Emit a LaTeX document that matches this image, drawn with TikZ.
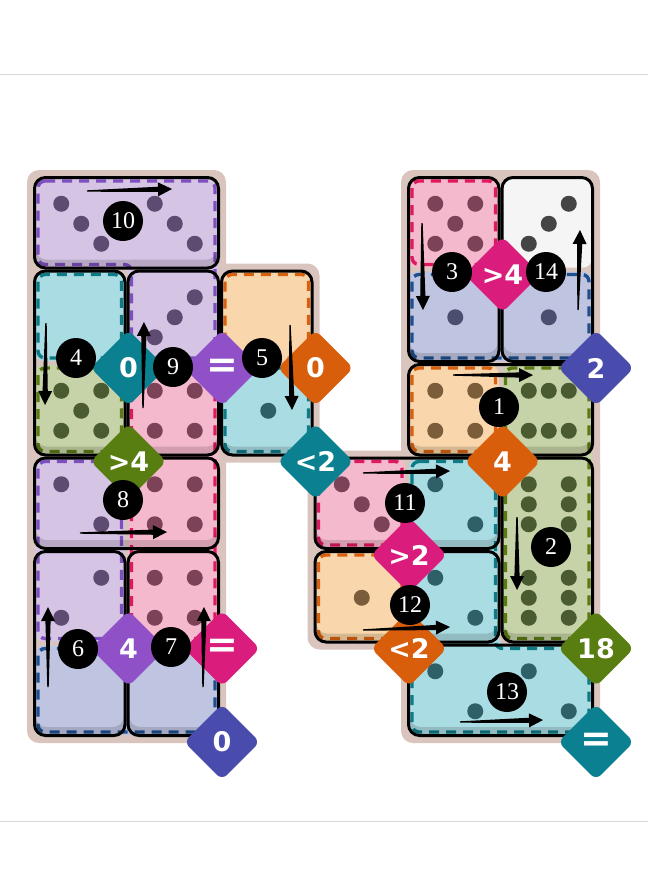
\documentclass[tikz,border=0pt]{standalone}
\usepackage{fontspec}
\setmainfont{Liberation Serif}
\newfontfamily\condfont{DejaVu Sans}
\usetikzlibrary{calc,shapes.geometric}

\definecolor{boardc}{HTML}{D9C5BE}
\definecolor{fillpurple}{HTML}{D6C4E4}
\definecolor{linepurple}{HTML}{7E4FC0}
\definecolor{tagpurple}{HTML}{9050C8}
\definecolor{pippurple}{HTML}{5E4B72}
\definecolor{fillteal}{HTML}{AADCE3}
\definecolor{lineteal}{HTML}{0D7A85}
\definecolor{tagteal}{HTML}{0B8090}
\definecolor{pipteal}{HTML}{2F6069}
\definecolor{fillorange}{HTML}{F9D6AB}
\definecolor{lineorange}{HTML}{D9600F}
\definecolor{tagorange}{HTML}{D95E0C}
\definecolor{piporange}{HTML}{7B5D3B}
\definecolor{fillgreen}{HTML}{C6D2A7}
\definecolor{linegreen}{HTML}{5B7A12}
\definecolor{taggreen}{HTML}{587D10}
\definecolor{pipgreen}{HTML}{4A5A31}
\definecolor{fillpink}{HTML}{F5B9CE}
\definecolor{linepink}{HTML}{E0185E}
\definecolor{tagpink}{HTML}{DA1D7D}
\definecolor{pippink}{HTML}{7B4258}
\definecolor{fillblue}{HTML}{BFC5E1}
\definecolor{lineblue}{HTML}{1E5090}
\definecolor{tagblue}{HTML}{4A4CAD}
\definecolor{pipblue}{HTML}{4B4F6F}
\definecolor{fillwhite}{HTML}{F5F5F5}
\definecolor{pipwhite}{HTML}{454545}

\tikzset{
    regdash/.style={line width=3.4pt,dash pattern=on 10pt off 7pt},
    domline/.style={line width=3pt,rounded corners=11pt},
    cond/.style={diamond,aspect=1,minimum size=76pt,inner sep=0pt,rounded corners=7pt,text=white,font=\condfont\bfseries\fontsize{27}{27}\selectfont},
    numc/.style={circle,fill=black,minimum size=40pt,inner sep=0pt,text=white,font=\fontsize{24}{24}\selectfont}
}

%% region of cells: colour, x1, y1, x2, y2
\newcommand{\regbox}[5]{%
    \fill[fill#1,rounded corners=9pt] (#2+2,#3+2) rectangle (#4-2,#5-2);
    \draw[line#1,regdash,rounded corners=7pt] (#2+5,#3+5) rectangle (#4-5,#5-5);
}
%% domino: x1, y1, x2, y2
\newcommand{\domino}[4]{%
    \fill[black,opacity=.14,even odd rule,rounded corners=11pt]
        (#1+1.5,#2+1.5) rectangle (#3-1.5,#4-1.5)
        (#1+2.5,#2+1.5) rectangle (#3-2.5,#4-10);
    \draw[domline] (#1+1.5,#2+1.5) rectangle (#3-1.5,#4-1.5);
}
%% pips
\newcommand{\pp}[2]{\fill (#1,#2) circle (8pt);}
\newcommand{\pips}[1]{%
    \ifcase#1\relax
    \or \pp{0}{0}
    \or \pp{-20}{-20}\pp{20}{20}
    \or \pp{-20}{-20}\pp{0}{0}\pp{20}{20}
    \or \pp{-20}{-20}\pp{20}{-20}\pp{-20}{20}\pp{20}{20}
    \or \pp{-20}{-20}\pp{20}{-20}\pp{0}{0}\pp{-20}{20}\pp{20}{20}
    \or \pp{-20}{-20}\pp{0}{-20}\pp{20}{-20}\pp{-20}{20}\pp{0}{20}\pp{20}{20}
    \fi}
%% tapered arrow: tail, tip
\newcommand{\taper}[2]{%
    \coordinate (tb) at ($(#2)!14pt!(#1)$);
    \fill ($(#1)!0.7pt!90:(#2)$) -- ($(tb)!2.6pt!90:(#2)$) -- ($(tb)!7pt!90:(#2)$) -- (#2)
        -- ($(tb)!7pt!-90:(#2)$) -- ($(tb)!2.6pt!-90:(#2)$) -- ($(#1)!0.7pt!-90:(#2)$) -- cycle;
}
\newcommand{\eq}{{\fontsize{38}{38}\selectfont =}}

\begin{document}
\begin{tikzpicture}[x=1pt,y=-1pt]
    \useasboundingbox (0,0) rectangle (648,884);
    \fill[white] (0,0) rectangle (648,884);
    \draw[black!15,line width=1pt] (0,74) -- (648,74) (0,821) -- (648,821);

    %% board
    \fill[boardc,rounded corners=12pt] (27,170) rectangle (226,743);
    \fill[boardc,rounded corners=12pt] (214,263.5) rectangle (319.5,462.5);
    \fill[boardc,rounded corners=12pt] (307.5,450.5) rectangle (600,649.5);
    \fill[boardc,rounded corners=12pt] (401,170) rectangle (600,743);

    %% regions
    \fill[fillpurple,rounded corners=9pt] (35,178) -- (218,178) -- (218,361) -- (128.5,361) -- (128.5,267.5) -- (35,267.5) -- cycle;
    \draw[linepurple,regdash,rounded corners=7pt] (38,181) -- (215,181) -- (215,358) -- (131.5,358) -- (131.5,264.5) -- (38,264.5) -- cycle;
    \regbox{teal}{33}{269.5}{126.5}{363}
    \regbox{orange}{220}{269.5}{313.5}{363}
    \regbox{green}{33}{363}{126.5}{456.5}
    \regbox{pink}{126.5}{363}{220}{643.5}
    \regbox{teal}{220}{363}{313.5}{456.5}
    \regbox{purple}{33}{456.5}{126.5}{643.5}
    \regbox{blue}{33}{643.5}{220}{737}
    \regbox{pink}{407}{176}{500.5}{269.5}
    \fill[fillwhite,rounded corners=9pt] (502.5,178) rectangle (592,267.5);
    \regbox{blue}{407}{269.5}{594}{363}
    \regbox{orange}{407}{363}{500.5}{456.5}
    \regbox{green}{500.5}{363}{594}{643.5}
    \regbox{pink}{313.5}{456.5}{407}{550}
    \regbox{orange}{313.5}{550}{407}{643.5}
    \fill[fillteal,rounded corners=9pt] (409,458.5) -- (498.5,458.5) -- (498.5,645.5) -- (592,645.5) -- (592,735) -- (409,735) -- cycle;
    \draw[lineteal,regdash,rounded corners=7pt] (412,461.5) -- (495.5,461.5) -- (495.5,648.5) -- (589,648.5) -- (589,732) -- (412,732) -- cycle;

    %% dominoes
    \domino{33}{176}{220}{269.5}
    \domino{33}{269.5}{126.5}{456.5}
    \domino{126.5}{269.5}{220}{456.5}
    \domino{220}{269.5}{313.5}{456.5}
    \domino{33}{456.5}{220}{550}
    \domino{33}{550}{126.5}{737}
    \domino{126.5}{550}{220}{737}
    \domino{407}{176}{500.5}{363}
    \domino{500.5}{176}{594}{363}
    \domino{407}{363}{594}{456.5}
    \domino{313.5}{456.5}{500.5}{550}
    \domino{313.5}{550}{500.5}{643.5}
    \domino{500.5}{456.5}{594}{643.5}
    \domino{407}{643.5}{594}{737}

    %% pips: row/col/count/colour/turn
    \foreach \r/\c/\n/\k/\a in {0/0/3/purple/0, 0/1/3/purple/0, 2/0/5/green/90, 1/1/3/purple/90,
        2/1/4/pink/90, 2/2/1/teal/90, 3/0/2/purple/0, 3/1/4/pink/0, 4/0/2/purple/90,
        4/1/4/pink/90, 0/4/5/pink/90, 1/4/1/blue/90, 0/5/3/white/90, 1/5/1/blue/90,
        2/4/4/orange/0, 2/5/6/green/0, 3/3/3/pink/0, 3/4/2/teal/0, 4/3/1/orange/0,
        4/4/2/teal/0, 3/5/6/green/90, 4/5/6/green/90, 5/4/2/teal/0, 5/5/2/teal/0} {
        \begin{scope}[shift={({81.25+93.5*\c},{223.75+93.5*\r})},rotate=\a,color=pip\k]
            \pips{\n}
        \end{scope}
    }

    %% constraints
    \node[cond,fill=tagteal] (cteala) at (128.5,368) {0};
    \node[cond,fill=tagpurple] (cpurplea) at (222,368) {\eq};
    \node[cond,fill=tagorange] (corangea) at (315.5,368) {0};
    \node[cond,fill=taggreen] (cgreena) at (128.5,461.5) {>4};
    \node[cond,fill=tagteal] (ctealb) at (315.5,461.5) {<2};
    \node[cond,fill=tagpurple] (cpurpleb) at (128.5,648.5) {4};
    \node[cond,fill=tagpink] (cpinka) at (222,648.5) {\eq};
    \node[cond,fill=tagblue] (cbluea) at (222,742) {0};
    \node[cond,fill=tagpink] (cpinkb) at (502.5,274.5) {>4};
    \node[cond,fill=tagblue] (cblueb) at (596,368) {2};
    \node[cond,fill=tagorange] (corangeb) at (502.5,461.5) {4};
    \node[cond,fill=taggreen] (cgreenb) at (596,648.5) {18};
    \node[cond,fill=tagpink] (cpinkc) at (409,555) {>2};
    \node[cond,fill=tagorange] (corangec) at (409,648.5) {<2};
    \node[cond,fill=tagteal] (ctealc) at (596,742) {\eq};

    %% moves
    \taper{87,191}{172,189}
    \taper{46,323}{45,405}
    \taper{143,408}{144,322}
    \taper{290,325}{292,410}
    \taper{80,533}{167,532}
    \taper{48,687}{48,607}
    \taper{203,687}{204,607}
    \taper{422,223}{423,310}
    \taper{578,310}{580,230}
    \taper{453,375}{533,375}
    \taper{363,473}{450,471}
    \taper{517,517}{517,590}
    \taper{363,630}{450,627}
    \taper{460,722}{543,720}

    %% move numbers
    \node[numc] (m10) at (123,221) {10};
    \node[numc] (m4) at (76,358) {4};
    \node[numc] (m9) at (173,367) {9};
    \node[numc] (m5) at (262,358) {5};
    \node[numc] (m8) at (123,500) {8};
    \node[numc] (m6) at (78,649) {6};
    \node[numc] (m7) at (171,647) {7};
    \node[numc] (m3) at (452,272) {3};
    \node[numc] (m14) at (546,272) {14};
    \node[numc] (m1) at (499,407) {1};
    \node[numc] (m11) at (405,503) {11};
    \node[numc] (m2) at (551,547) {2};
    \node[numc] (m12) at (410,605) {12};
    \node[numc] (m13) at (507,692) {13};
\end{tikzpicture}
\end{document}
